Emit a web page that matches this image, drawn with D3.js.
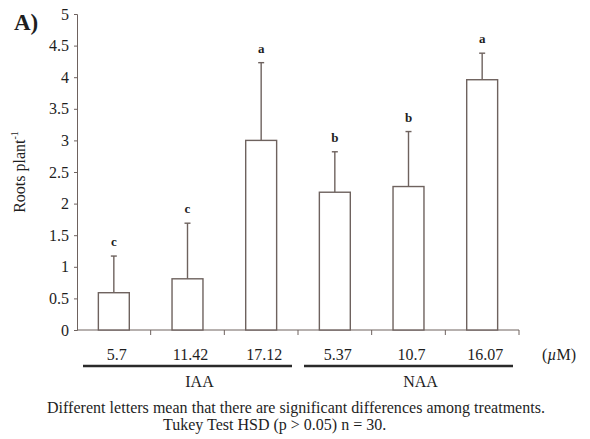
<!DOCTYPE html>
<html>
<head>
<meta charset="utf-8">
<script src="https://cdn.jsdelivr.net/npm/d3@7"></script>
<style>
  body { margin: 0; background: #fff; }
  svg { font-family: 'Liberation Serif', 'DejaVu Serif', serif; }
</style>
</head>
<body>
<svg id="chart"></svg>
<script>
const doses = ['5.7', '11.42', '17.12', '5.37', '10.7', '16.07']
const groups = ['IAA', 'IAA', 'IAA', 'NAA', 'NAA', 'NAA']
const means = [0.59, 0.81, 3.0, 2.18, 2.27, 3.96]
const errors = [0.58, 0.88, 1.23, 0.64, 0.87, 0.42]
const letters = ['c', 'c', 'a', 'b', 'b', 'a']
const yTicks = [0, 0.5, 1, 1.5, 2, 2.5, 3, 3.5, 4, 4.5, 5]
const groupNames = ['IAA', 'NAA']

const width = 590
const height = 439
const margin = { top: 14, right: 71, bottom: 109, left: 77 }
const lineColor = '#6e625e'
const textColor = '#1e1e1e'

const svg = d3.select('#chart')
  .attr('width', width)
  .attr('height', height)

const x = d3.scaleBand()
  .domain(doses.map((d, i) => i))
  .range([margin.left, width - margin.right])
  .padding(0)

const y = d3.scaleLinear()
  .domain([0, 5])
  .range([height - margin.bottom, margin.top])

const barW = x.bandwidth() * 0.42
const data = doses.map((d, i) => ({ i, dose: d, group: groups[i], mean: means[i], err: errors[i], letter: letters[i] }))

// y axis
const yAxis = svg.append('g')
  .attr('transform', `translate(${margin.left},0)`)
  .call(d3.axisLeft(y).tickValues(yTicks).tickFormat(d3.format('')).tickSize(3).tickPadding(5))
yAxis.selectAll('.domain, line').attr('stroke', lineColor)
yAxis.selectAll('text')
  .attr('font-size', 16)
  .attr('fill', textColor)
  .attr('font-family', 'Liberation Serif, serif')

// x axis (ticks at band boundaries)
const boundaries = d3.range(doses.length + 1).map(i => margin.left + i * x.step())
const xAxisG = svg.append('g')
  .attr('transform', `translate(0,${y(0)})`)
xAxisG.append('line')
  .attr('x1', margin.left).attr('x2', width - margin.right)
  .attr('stroke', lineColor)
xAxisG.selectAll('.tick').data(boundaries.slice(1)).enter().append('line')
  .attr('x1', d => d).attr('x2', d => d)
  .attr('y1', 0).attr('y2', 5)
  .attr('stroke', lineColor)

// error bars
const errG = svg.append('g').attr('stroke', lineColor).attr('stroke-width', 1.4)
errG.selectAll('.err').data(data).enter().append('line')
  .attr('x1', d => x(d.i) + x.bandwidth() / 2)
  .attr('x2', d => x(d.i) + x.bandwidth() / 2)
  .attr('y1', d => y(d.mean))
  .attr('y2', d => y(d.mean + d.err))
errG.selectAll('.cap').data(data).enter().append('line')
  .attr('x1', d => x(d.i) + x.bandwidth() / 2 - 3)
  .attr('x2', d => x(d.i) + x.bandwidth() / 2 + 3)
  .attr('y1', d => y(d.mean + d.err))
  .attr('y2', d => y(d.mean + d.err))

// bars
svg.append('g')
  .selectAll('rect').data(data).enter().append('rect')
  .attr('x', d => x(d.i) + (x.bandwidth() - barW) / 2)
  .attr('y', d => y(d.mean))
  .attr('width', barW)
  .attr('height', d => y(0) - y(d.mean))
  .attr('fill', '#fff')
  .attr('stroke', lineColor)
  .attr('stroke-width', 1.4)

// significance letters
svg.append('g')
  .selectAll('text').data(data).enter().append('text')
  .attr('x', d => x(d.i) + x.bandwidth() / 2)
  .attr('y', d => y(d.mean + d.err) - 10)
  .attr('text-anchor', 'middle')
  .attr('font-size', 13)
  .attr('font-weight', 'bold')
  .attr('fill', textColor)
  .text(d => d.letter)

// dose labels
svg.append('g')
  .selectAll('text').data(data).enter().append('text')
  .attr('x', d => x(d.i) + x.bandwidth() / 2 + 3)
  .attr('y', y(0) + 30)
  .attr('text-anchor', 'middle')
  .attr('font-size', 16)
  .attr('fill', textColor)
  .text(d => d.dose)

svg.append('text')
  .attr('x', 559)
  .attr('y', y(0) + 30)
  .attr('text-anchor', 'middle')
  .attr('font-size', 16)
  .attr('fill', textColor)
  .html('(<tspan font-style="italic">µ</tspan>M)')

// group underlines and labels
groupNames.forEach(g => {
  const idx = data.filter(d => d.group === g).map(d => d.i)
  const x0 = x(idx[0]) + 6
  const x1 = x(idx[idx.length - 1]) + x.bandwidth() - 6
  svg.append('line')
    .attr('x1', x0).attr('x2', x1)
    .attr('y1', y(0) + 36).attr('y2', y(0) + 36)
    .attr('stroke', '#2a2a2a')
    .attr('stroke-width', 2.5)
  svg.append('text')
    .attr('x', (x0 + x1) / 2 + 12)
    .attr('y', y(0) + 57)
    .attr('text-anchor', 'middle')
    .attr('font-size', 16)
    .attr('fill', textColor)
    .text(g)
})

// y label
svg.append('text')
  .attr('transform', `translate(25,${(margin.top + y(0)) / 2}) rotate(-90)`)
  .attr('text-anchor', 'middle')
  .attr('font-size', 16)
  .attr('fill', textColor)
  .html('Roots plant<tspan font-size="10" dy="-7">-1</tspan>')

// panel tag
svg.append('text')
  .attr('x', 14)
  .attr('y', 30)
  .attr('font-size', 23)
  .attr('font-weight', 'bold')
  .attr('fill', textColor)
  .text('A)')

// footnote
svg.append('text')
  .attr('x', 47)
  .attr('y', 413)
  .attr('font-size', 16)
  .attr('fill', textColor)
  .attr('textLength', 498)
  .text('Different letters mean that there are significant differences among treatments.')
svg.append('text')
  .attr('x', 163)
  .attr('y', 430)
  .attr('font-size', 16)
  .attr('fill', textColor)
  .text('Tukey Test HSD (p > 0.05) n = 30.')
</script>
</body>
</html>
